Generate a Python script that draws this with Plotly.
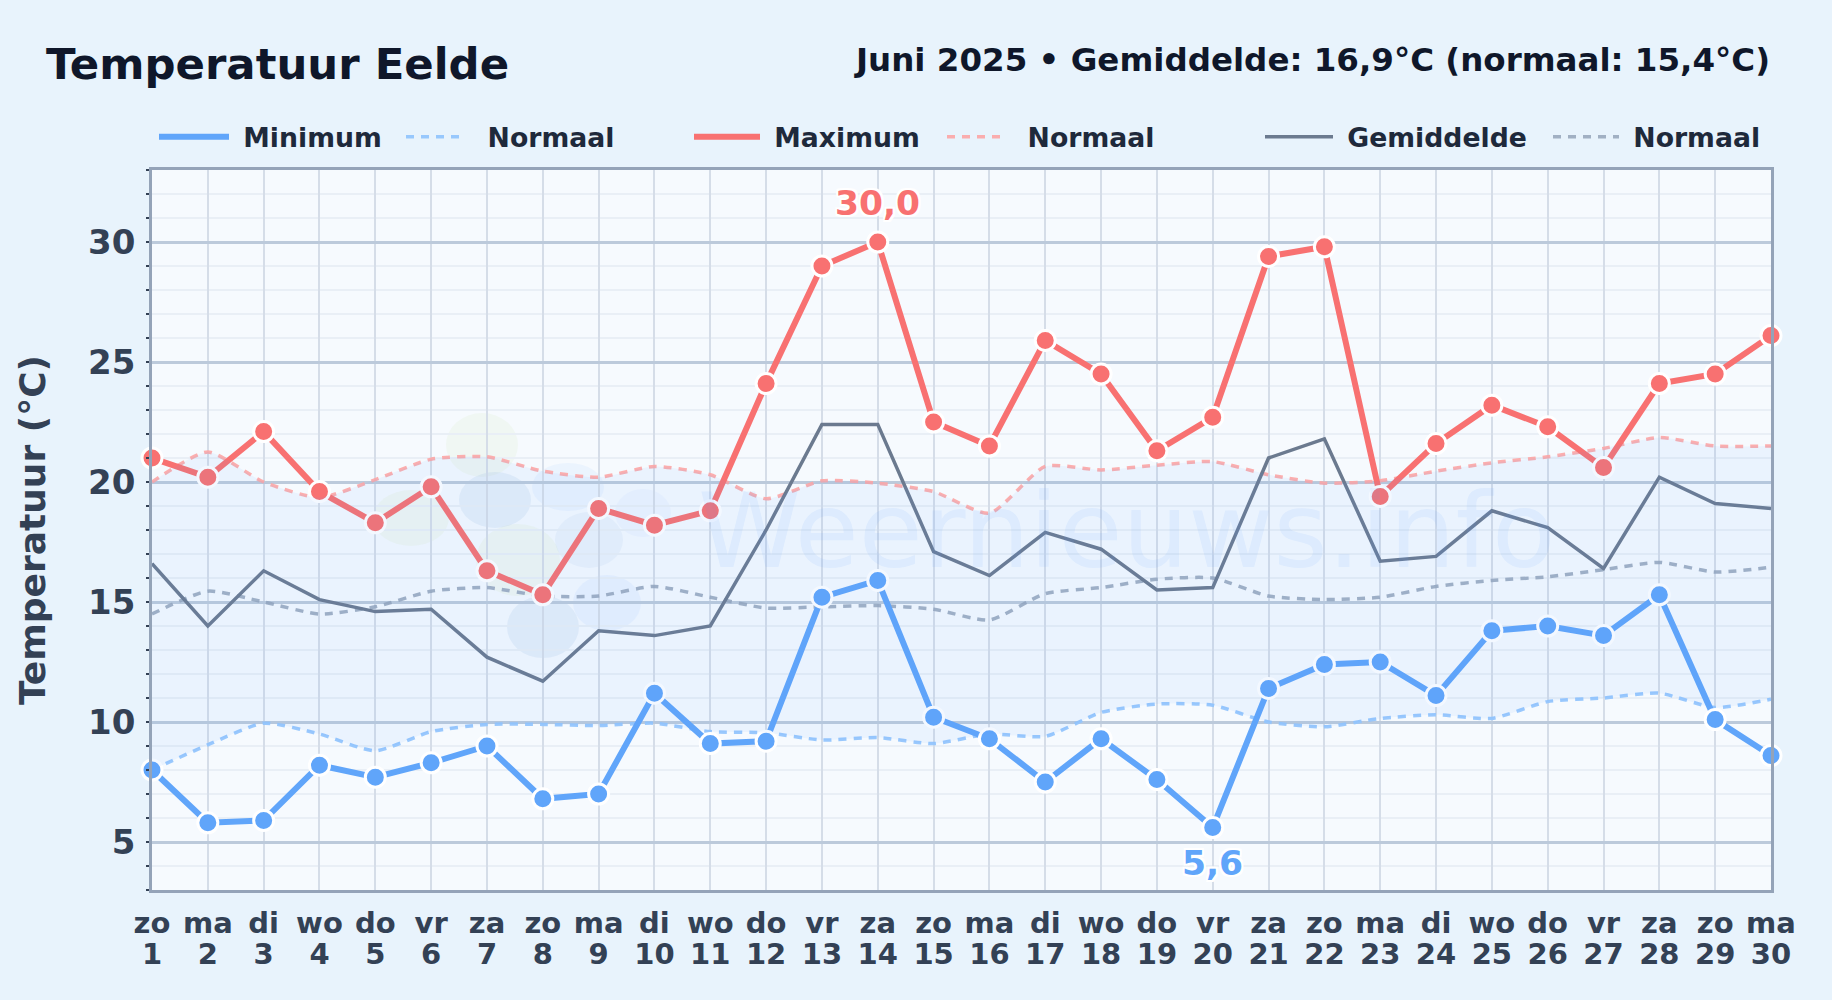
import plotly.graph_objects as go

days = list(range(1, 31))
weekdays = ["zo","ma","di","wo","do","vr","za"] * 4 + ["zo","ma"]
y_ticks = [5, 10, 15, 20, 25, 30]

t_min = [8.0,5.8,5.9,8.2,7.7,8.3,9.0,6.8,7.0,11.2,9.1,9.2,15.2,15.9,10.2,9.3,7.5,9.3,7.6,5.6,11.4,12.4,12.5,11.1,13.8,14.0,13.6,15.3,10.1,8.6]
t_max = [21.0,20.2,22.1,19.6,18.3,19.8,16.3,15.3,18.9,18.2,18.8,24.1,29.0,30.0,22.5,21.5,25.9,24.5,21.3,22.7,29.4,29.8,19.4,21.6,23.2,22.3,20.6,24.1,24.5,26.1]
t_mean = [16.6,14.0,16.3,15.1,14.6,14.7,12.7,11.7,13.8,13.6,14.0,18.0,22.4,22.4,17.1,16.1,17.9,17.2,15.5,15.6,21.0,21.8,16.7,16.9,18.8,18.1,16.4,20.2,19.1,18.9]
norm_min = [8.0,9.05,9.95,9.5,8.8,9.6,9.9,9.9,9.85,9.95,9.6,9.55,9.25,9.35,9.1,9.5,9.4,10.4,10.75,10.7,10.0,9.8,10.15,10.3,10.15,10.85,11.0,11.2,10.6,10.95]
norm_max = [20.0,21.25,20.0,19.35,20.1,20.95,21.05,20.45,20.2,20.65,20.3,19.3,20.05,19.95,19.6,18.7,20.65,20.5,20.7,20.85,20.3,19.95,20.05,20.45,20.8,21.05,21.4,21.85,21.5,21.5]
norm_mean = [14.5,15.45,15.0,14.5,14.8,15.45,15.6,15.25,15.25,15.65,15.2,14.75,14.8,14.85,14.7,14.25,15.35,15.6,15.95,16.0,15.25,15.1,15.2,15.65,15.9,16.05,16.35,16.65,16.25,16.45]

BG = "#e8f3fc"; FONT = "DejaVu Sans"
W, H = 1832, 1000
L, R, T, B = 152, 1771, 170, 890
def px(x): return (x - L) / (R - L)
def py(y): return (B - y) / (B - T)

BLUE, RED, GRAY = "#60a5fa", "#f87171", "#6b7a8f"
NB, NR, NG = "rgba(147,197,253,0.95)", "rgba(252,165,165,0.9)", "rgba(148,163,184,0.85)"
NDASH = "8px,7px"
NBSP = "\u00a0"

fig = go.Figure()
# band between normal minimum and maximum (drawn on the overlay axis that carries the day numbers)
fig.add_trace(go.Scatter(x=days, y=norm_min, xaxis="x2", mode="lines", line=dict(width=0, shape="spline", smoothing=0.6), showlegend=False, hoverinfo="skip"))
fig.add_trace(go.Scatter(x=days, y=norm_max, xaxis="x2", mode="lines", line=dict(width=0, shape="spline", smoothing=0.6), fill="tonexty", fillcolor="rgba(96,165,250,0.075)", showlegend=False, hoverinfo="skip"))

def dashed(y, col, legend, name):
    fig.add_trace(go.Scatter(x=days, y=y, name=name, mode="lines", legend=legend, cliponaxis=False,
                             line=dict(color=col, width=3.5, dash=NDASH, shape="spline", smoothing=0.6)))

dashed(norm_min, NB, "legend2", NBSP*2 + "Normaal")
dashed(norm_max, NR, "legend4", NBSP*2 + "Normaal")
dashed(norm_mean, NG, "legend6", NBSP + "Normaal")
fig.add_trace(go.Scatter(x=days, y=t_mean, name=NBSP + "Gemiddelde", mode="lines", legend="legend5", cliponaxis=False, line=dict(color=GRAY, width=3.5)))
for y, col, name, lg in [(t_min, BLUE, NBSP + "Minimum", "legend"), (t_max, RED, NBSP + "Maximum", "legend3")]:
    fig.add_trace(go.Scatter(x=days, y=y, name=name, mode="lines", legend=lg, cliponaxis=False, line=dict(color=col, width=6)))
    fig.add_trace(go.Scatter(x=days, y=y, mode="markers", showlegend=False, cliponaxis=False,
                             marker=dict(color=col, size=20, line=dict(color="#ffffff", width=3))))

leg_font = dict(family=FONT, size=26.7, color="#1e293b", weight=700)
def leg(x, w):
    return dict(x=px(x), y=py(137), xanchor="left", yanchor="middle", orientation="h", itemwidth=w,
                font=leg_font, bgcolor="rgba(0,0,0,0)", borderwidth=0)

# watermark blobs (x centre, y centre, rx, ry, colour) in page pixels
blobs = [
    (482,445,36,32,"rgba(190,220,130,0.09)"),(411,518,38,28,"rgba(190,220,130,0.09)"),(518,560,42,36,"rgba(190,220,130,0.09)"),
    (495,500,36,28,"rgba(70,130,200,0.085)"),(568,487,36,24,"rgba(96,165,250,0.07)"),(589,540,34,28,"rgba(70,130,200,0.06)"),
    (543,627,36,31,"rgba(70,130,200,0.085)"),(607,603,34,28,"rgba(96,165,250,0.08)"),(643,513,28,24,"rgba(96,165,250,0.05)"),
]
shapes = [dict(type="circle", xref="paper", yref="paper", layer="below", line_width=0, fillcolor=c,
               x0=px(x-rx), x1=px(x+rx), y0=py(y+ry), y1=py(y-ry)) for x, y, rx, ry, c in blobs]

HALO = "-2px 0 #fff,2px 0 #fff,0 -2px #fff,0 2px #fff,-2px -2px #fff,2px 2px #fff,-2px 2px #fff,2px -2px #fff"
annotations = [
    dict(text="Weernieuws.info", xref="paper", yref="paper", x=px(1127), y=py(531), showarrow=False,
         font=dict(family=FONT, size=104, color="rgba(96,165,250,0.09)", shadow="0 0 3px rgba(96,165,250,0.10)")),
    dict(text="Juni 2025 • Gemiddelde: 16,9°C (normaal: 15,4°C)", xref="paper", yref="paper", x=px(1772), y=py(60),
         xanchor="right", yanchor="middle", showarrow=False, font=dict(family=FONT, size=32.5, color="#0f172a", weight=700)),
    dict(text="30,0", x=14, y=30, xref="x", yref="y", yshift=39, showarrow=False,
         font=dict(family=FONT, size=34.5, color=RED, weight=700, shadow=HALO)),
    dict(text="5,6", x=20, y=5.6, xref="x", yref="y", yshift=-35, showarrow=False,
         font=dict(family=FONT, size=34.5, color=BLUE, weight=700, shadow=HALO)),
]

tick_font = dict(family=FONT, size=29, color="#334155", weight=700)
fig.update_layout(
    width=W, height=H, autosize=False,
    margin=dict(l=L, r=W-R, t=T, b=H-B, pad=0, autoexpand=False),
    paper_bgcolor=BG, plot_bgcolor="#f6fafe",
    font=dict(family=FONT),
    title=dict(text="Temperatuur Eelde", x=46/W, xanchor="left", xref="container", y=1-64/H, yanchor="middle",
               font=dict(family=FONT, size=43.4, color="#0f172a", weight=700)),
    shapes=shapes, annotations=annotations,
    legend=leg(154, 70), legend2=leg(401, 58), legend3=leg(689, 66),
    legend4=leg(942, 57), legend5=leg(1260, 68), legend6=leg(1548, 66),
    xaxis=dict(range=[1, 30], tickmode="array", tickvals=days, ticktext=weekdays, showgrid=True,
               gridcolor="#d5dde8", gridwidth=2, zeroline=False, showline=True, linecolor="#94a3b8", linewidth=2.5, mirror=True,
               ticks="", tickangle=0, tickfont=tick_font, ticklabelstandoff=5),
    xaxis2=dict(range=[1, 30], overlaying="x", anchor="y", side="bottom", tickmode="array", tickvals=days,
                ticktext=[str(d) for d in days], showgrid=False, zeroline=False, showline=False, ticks="",
                tickangle=0, tickfont=tick_font, ticklabelstandoff=44),
    yaxis=dict(range=[3, 33], tickmode="array", tickvals=y_ticks, showgrid=True, gridcolor="#bccadb", gridwidth=2.5,
               zeroline=False, showline=True, linecolor="#94a3b8", linewidth=2.5, mirror=True, ticks="",
               tickfont=dict(family=FONT, size=34, color="#334155", weight=700), ticklabelstandoff=7,
               title=dict(text="Temperatuur (°C)", font=dict(family=FONT, size=36, color="#334155", weight=700), standoff=32),
               minor=dict(dtick=1, tick0=0, ticks="outside", ticklen=3, tickcolor="#334155", tickwidth=1.5,
                          showgrid=True, gridcolor="#e9eff6", gridwidth=1.8)),
)
fig.write_html("out.html", config={"displayModeBar": False},
               post_script="document.body.style.margin='0';document.body.style.background='%s';" % BG)
